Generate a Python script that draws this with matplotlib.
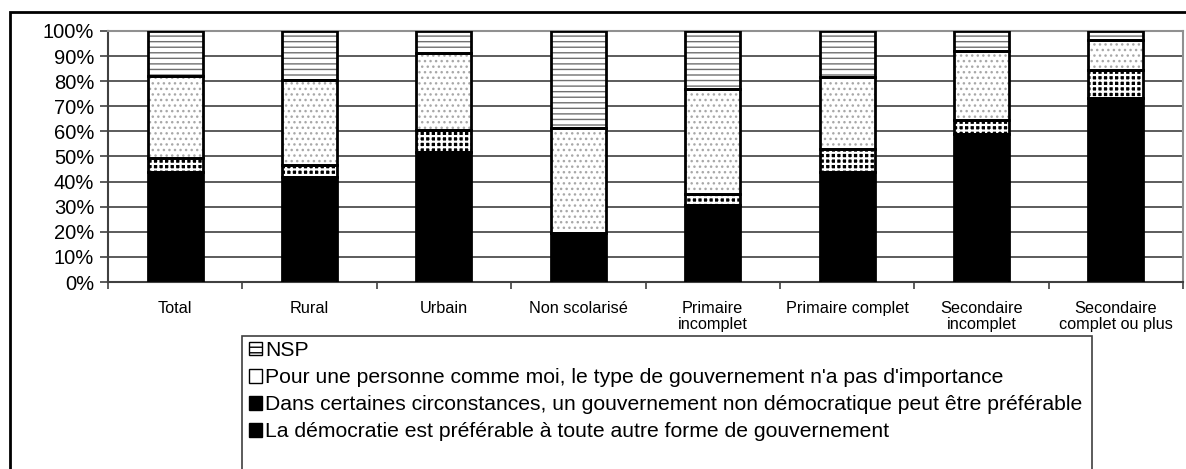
import numpy as np
import matplotlib
matplotlib.use("Agg")
import matplotlib.pyplot as plt
from matplotlib.patches import Patch, Rectangle

plt.rcParams['font.family'] = ['Liberation Sans', 'DejaVu Sans']
plt.rcParams['hatch.linewidth'] = 1.0

# data (percent)
categories = ["Total", "Rural", "Urbain", "Non scolarisé", "Primaire\nincomplet",
              "Primaire complet", "Secondaire\nincomplet", "Secondaire\ncomplet ou plus"]
democratie = [43.8, 41.8, 51.8, 19.5, 30.6, 43.8, 59.1, 73.5]
non_democ = [5.8, 5.0, 8.9, 0.0, 4.3, 9.3, 5.6, 10.8]
pas_importance = [32.4, 33.6, 30.5, 42.0, 41.9, 28.6, 27.5, 12.0]
nsp = [18.0, 19.6, 8.8, 38.5, 23.2, 18.3, 7.8, 3.7]

labels = ["La démocratie est préférable à toute autre forme de gouvernement",
          "Dans certaines circonstances, un gouvernement non démocratique peut être préférable",
          "Pour une personne comme moi, le type de gouvernement n'a pas d'importance",
          "NSP"]

W, H = 1186, 469
fig = plt.figure(figsize=(W / 100, H / 100), dpi=100)
ax = fig.add_axes([108 / W, 1 - 282 / H, (1183 - 108) / W, (282 - 31) / H])

x = np.arange(len(categories))
bw = 0.41
series = [democratie, non_democ, pas_importance, nsp]
# (facecolor, hatch colour, hatch, hatch width)
styles = [("black", "black", None, 1.0),
          ("black", "white", "+++", 1.6),
          ("white", "#a8a8a8", "...", 1.0),
          ("white", "#707070", "---", 1.0)]

bottom = np.zeros(len(categories))
for vals, (fc, hc, hatch, hlw) in zip(series, styles):
    vals = np.array(vals)
    bars = ax.bar(x, vals, bw, bottom=bottom, color=fc, edgecolor=hc, linewidth=0,
                  hatch=hatch, zorder=2)
    for b in bars:
        if hasattr(b, "set_hatch_linewidth"):
            b.set_hatch_linewidth(hlw)
    ax.bar(x, vals, bw, bottom=bottom, fill=False, edgecolor="black",
           linewidth=2, zorder=3)
    bottom += vals

ax.set_xlim(-0.5, len(categories) - 0.5)
ax.set_ylim(0, 100)
ax.set_yticks(np.arange(0, 101, 10))
ax.set_yticklabels([f"{v}%" for v in range(0, 101, 10)], fontsize=14.5)
ax.yaxis.grid(True, color="#404040", linewidth=1.2, zorder=0)
ax.set_axisbelow(True)

ax.set_xticks(x)
ax.set_xticklabels(categories, fontsize=11.7, linespacing=1.05)
ax.tick_params(axis="x", length=0, pad=14)
ax.set_xticks(np.arange(-0.5, len(categories), 1), minor=True)
ax.tick_params(axis="x", which="minor", length=5, width=1.2, color="#404040", direction="out")
ax.tick_params(axis="y", length=6, width=1.2, color="#404040", direction="out", pad=4)

for side in ["top", "right"]:
    ax.spines[side].set_color("#909090")
    ax.spines[side].set_linewidth(1.5)
for side in ["left", "bottom"]:
    ax.spines[side].set_color("#404040")
    ax.spines[side].set_linewidth(1.5)

# outer chart frame (cut off on right and bottom)
fig.patches.append(Rectangle((10 / W, -0.2), 1.2, 1 - 12 / H + 0.2, transform=fig.transFigure,
                             fill=False, edgecolor="black", linewidth=2))

# legend box (extends below the image)
fig.patches.append(Rectangle((242 / W, -0.2), (1092 - 242) / W, 1 - 336 / H + 0.2,
                             transform=fig.transFigure, fill=False,
                             edgecolor="#404040", linewidth=1.2))

handles = [Patch(facecolor="white", edgecolor="black", hatch="---"),
           Patch(facecolor="white", edgecolor="black"),
           Patch(facecolor="black", edgecolor="black", hatch="++"),
           Patch(facecolor="black", edgecolor="black")]
fig.legend(handles, labels[::-1], loc="upper left", bbox_to_anchor=(245 / W, 1 - 337 / H),
           frameon=False, fontsize=15.2, handlelength=0.6, handleheight=0.6,
           handletextpad=0.15, labelspacing=0.38, borderaxespad=0, borderpad=0.2)

fig.savefig("out.png", dpi=100)
